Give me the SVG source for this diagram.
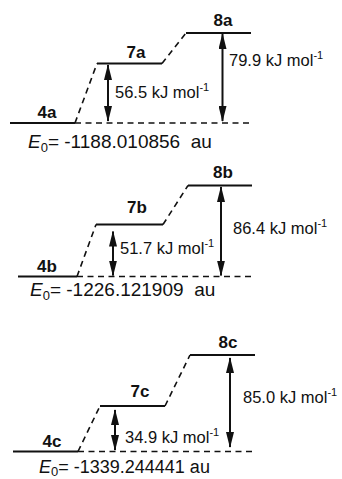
<svg xmlns="http://www.w3.org/2000/svg" width="342" height="479" viewBox="0 0 342 479">
<style>
.lvl{stroke:#111;stroke-width:2;fill:none}
.dash{stroke:#111;stroke-width:1.6;fill:none;stroke-dasharray:6 4.5}
.arr{stroke:#111;stroke-width:2;fill:none;marker-start:url(#ah);marker-end:url(#ah)}
.lab{font-family:"Liberation Sans",Arial,sans-serif;font-weight:bold;font-size:17px;fill:#111;text-anchor:middle}
.en{font-family:"Liberation Sans",Arial,sans-serif;font-size:16.5px;fill:#111}
.e0{font-family:"Liberation Sans",Arial,sans-serif;font-size:19px;fill:#111}
.e0s{font-size:18px}
</style>
<defs>
<marker id="ah" markerUnits="userSpaceOnUse" markerWidth="16" markerHeight="8" refX="15" refY="4" orient="auto-start-reverse" viewBox="0 0 16 8">
<path d="M0,0 L16,4 L0,8 z" fill="#111"/>
</marker>
</defs>
<g id="panel-a">
<g id="n4a"><line class="lvl" x1="10" y1="123" x2="75" y2="123"/><text class="lab" x="47" y="118">4a</text></g>
<g id="n7a"><line class="lvl" x1="97" y1="63.5" x2="162" y2="63.5"/><text class="lab" x="136" y="57.5">7a</text></g>
<g id="n8a"><line class="lvl" x1="186" y1="33" x2="251" y2="33"/><text class="lab" x="223" y="26">8a</text></g>
<g id="conn-a">
<line class="dash" x1="75" y1="123" x2="251" y2="123"/>
<line class="dash" x1="75" y1="123" x2="97" y2="63.5"/>
<line class="dash" x1="162" y1="63.5" x2="186" y2="33"/>
<line class="arr" x1="108" y1="65" x2="108" y2="121"/>
<line class="arr" x1="222.5" y1="34" x2="222.5" y2="121"/>
</g>
<text class="en" x="115" y="98">56.5 kJ mol<tspan font-size="11" dy="-7">-1</tspan></text>
<text class="en" x="229" y="66">79.9 kJ mol<tspan font-size="11" dy="-7">-1</tspan></text>
<text class="e0" x="28" y="148"><tspan font-style="italic">E</tspan><tspan font-size="13" dy="4">0</tspan><tspan dy="-4">= -1188.010856&#160; au</tspan></text>
</g>
<g id="panel-b">
<g id="n4b"><line class="lvl" x1="18" y1="276.5" x2="77" y2="276.5"/><text class="lab" x="47" y="271.5">4b</text></g>
<g id="n7b"><line class="lvl" x1="96" y1="224.5" x2="163" y2="224.5"/><text class="lab" x="137" y="213">7b</text></g>
<g id="n8b"><line class="lvl" x1="188" y1="185.5" x2="252" y2="185.5"/><text class="lab" x="223" y="178">8b</text></g>
<g id="conn-b">
<line class="dash" x1="77" y1="276.5" x2="252" y2="276.5"/>
<line class="dash" x1="77" y1="276.5" x2="96" y2="224.5"/>
<line class="dash" x1="163" y1="224.5" x2="188" y2="185.5"/>
<line class="arr" x1="113" y1="231.5" x2="113" y2="275.5"/>
<line class="arr" x1="221" y1="187" x2="221" y2="275.5"/>
</g>
<text class="en" x="120" y="254">51.7 kJ mol<tspan font-size="11" dy="-7">-1</tspan></text>
<text class="en" x="233" y="233.5">86.4 kJ mol<tspan font-size="11" dy="-7">-1</tspan></text>
<text class="e0" x="30" y="296"><tspan font-style="italic">E</tspan><tspan font-size="13" dy="4">0</tspan><tspan dy="-4">= -1226.121909&#160; au</tspan></text>
</g>
<g id="panel-c">
<g id="n4c"><line class="lvl" x1="13" y1="451.5" x2="78" y2="451.5"/><text class="lab" x="52" y="446.5">4c</text></g>
<g id="n7c"><line class="lvl" x1="100" y1="406" x2="165" y2="406"/><text class="lab" x="140" y="396.5">7c</text></g>
<g id="n8c"><line class="lvl" x1="190" y1="355" x2="255" y2="355"/><text class="lab" x="228" y="348">8c</text></g>
<g id="conn-c">
<line class="dash" x1="78" y1="451.5" x2="255" y2="451.5"/>
<line class="dash" x1="78" y1="451.5" x2="100" y2="406"/>
<line class="dash" x1="165" y1="406" x2="190" y2="355"/>
<line class="arr" x1="115" y1="410" x2="115" y2="450"/>
<line class="arr" x1="230" y1="358" x2="230" y2="447"/>
</g>
<text class="en" x="125" y="443">34.9 kJ mol<tspan font-size="11" dy="-7">-1</tspan></text>
<text class="en" x="243" y="403">85.0 kJ mol<tspan font-size="11" dy="-7">-1</tspan></text>
<text class="e0 e0s" x="39" y="473"><tspan font-style="italic">E</tspan><tspan font-size="13" dy="3">0</tspan><tspan dy="-3">= -1339.244441 au</tspan></text>
</g>
</svg>
